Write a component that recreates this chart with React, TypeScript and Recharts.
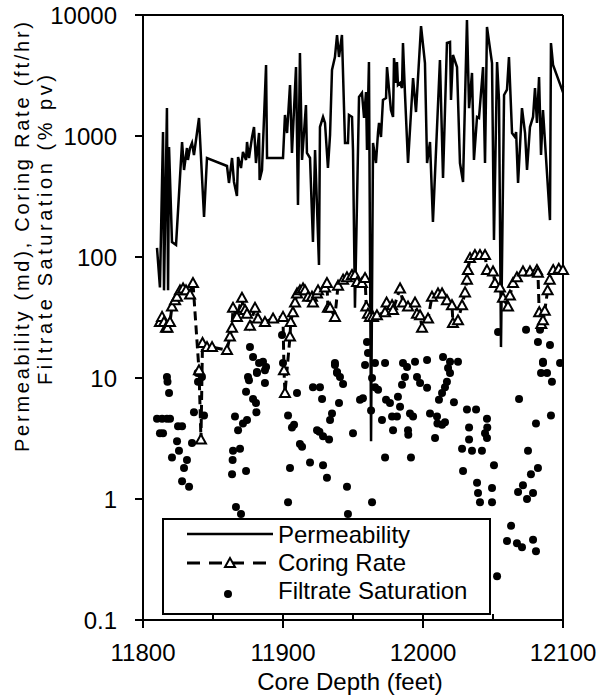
import React from 'react'
import { ComposedChart, Line, Scatter, XAxis, YAxis, ReferenceLine, Legend } from 'recharts'

const FONT = "'Liberation Sans', Arial, sans-serif"

const DEPTH_TICKS = [11800, 11850, 11900, 11950, 12000, 12050, 12100]
const VALUE_TICKS = [0.1, 1, 10, 100, 1000, 10000]

const PERM_DEPTH = [
  11810, 11812.1, 11814.3, 11815, 11817.1, 11817.9, 11818.6, 11820.7, 11823.6, 11827.9,
  11829.3, 11831.4, 11832.1, 11833.6, 11835, 11836.4, 11840, 11843.6, 11845.7, 11860,
  11861.4, 11863.6, 11865, 11867.1, 11867.9, 11870, 11871.4, 11873.6, 11874.3, 11875.7,
  11877.9, 11879.3, 11880.7, 11882.9, 11883.3, 11885, 11887.9, 11888.6, 11900, 11901.4,
  11902.9, 11905, 11906.4, 11909.3, 11910.7, 11912.1, 11913.6, 11916.4, 11917.1, 11919.3,
  11921.4, 11922.9, 11925.7, 11926.4, 11928.6, 11930, 11932.1, 11933.6, 11935, 11937.1,
  11938.6, 11940, 11942.1, 11944.3, 11946.4, 11947.1, 11949.3, 11950, 11951.4, 11954.3,
  11956.4, 11957.9, 11959.3, 11960, 11961.4, 11962.9, 11964.3, 11966.4, 11967.9, 11968.6,
  11970, 11971.4, 11973.6, 11974.3, 11977.1, 11978.6, 11979.3, 11980.7, 11981.4, 11982.1,
  11983.6, 11985, 11985.7, 11987.1, 11989.3, 11992.9, 11995, 11998.6, 12001.4, 12002.9,
  12005, 12007.1, 12012.1, 12014.3, 12017.1, 12019.3, 12020, 12021.4, 12024.3, 12026.4,
  12028.6, 12031.4, 12032.9, 12035, 12036.4, 12038.6, 12040, 12042.9, 12044.3, 12045.7,
  12049.3, 12050.7, 12052.9, 12054.3, 12055.7, 12057.9, 12060, 12061.4, 12063.6, 12065.7,
  12066.5, 12067.9, 12070.7, 12072.9, 12074.3, 12076.4, 12078.6, 12080, 12081.4, 12082.9,
  12084.3, 12085.7, 12090.7, 12091.4, 12092.9, 12099.3, 12100,
]
const PERM_VALUE = [
  119, 56, 1080, 53, 1700, 53, 811, 133, 126, 892,
  524, 796, 634, 796, 875, 697, 1409, 214, 658, 565,
  409, 658, 417, 319, 670, 544, 738, 634, 892, 658,
  981, 1186, 598, 1059, 433, 524, 3862, 658, 658, 1492,
  1059, 2638, 724, 3716, 269, 4853, 634, 1804, 724, 658,
  133, 766, 86, 1186, 1436, 1281, 544, 1019, 3510, 4497,
  6834, 4497, 6834, 875, 875, 1492, 1436, 766, 38, 2100,
  2266, 1409, 2311, 766, 4090, 3, 875, 598, 1080, 1281,
  981, 1985, 2060, 3716, 1640, 1436, 4413, 2742, 4090, 2638,
  2742, 2494, 5870, 2266, 598, 3015, 1578, 8110, 4010, 598,
  892, 195, 4246, 450, 5870, 5980, 1985, 4670, 3716, 598,
  417, 9100, 1700, 3318, 634, 1436, 1409, 3716, 598, 7960,
  4010, 138, 4090, 1985, 18, 2183, 2420, 4497, 1059, 981,
  1080, 409, 1700, 1059, 524, 1186, 1436, 2494, 1281, 3073,
  697, 1640, 202, 5870, 3862, 2420, 2600,
]

const CORING_DEPTH = [
  11812.1, 11813.6, 11815, 11816.4, 11817.5, 11819.3, 11820.7, 11822.9, 11824.3, 11826.4,
  11828.6, 11830.7, 11833.6, 11835.7, 11840, 11841.4, 11842.5, 11845.7, 11849.3, 11860,
  11862.1, 11863.6, 11864.3, 11867.1, 11870.7, 11871.4, 11872.9, 11874.3, 11876.4, 11880,
  11882.1, 11887.1, 11892.9, 11900, 11900.7, 11901.4, 11905, 11905.5, 11907.1, 11908.6,
  11910, 11912.1, 11914.3, 11915.7, 11917.9, 11920.7, 11921.4, 11924.3, 11925, 11930,
  11931.4, 11932.1, 11933.6, 11937.1, 11939.3, 11942.9, 11945.7, 11949.3, 11951.4, 11952.9,
  11956.4, 11958.6, 11959.5, 11960.7, 11962.1, 11964.3, 11967.1, 11972.9, 11974, 11977.9,
  11978.6, 11983.6, 11985.7, 11989.3, 11994.3, 11995.7, 11997.9, 11999.3, 12003.6, 12006.4,
  12010.7, 12013.6, 12017.1, 12020.7, 12021.4, 12025, 12027.9, 12030, 12031.4, 12032.1,
  12033.6, 12037.1, 12040.7, 12044.3, 12045.7, 12050, 12051.4, 12055, 12057.1, 12060.7,
  12062.1, 12064.3, 12067.1, 12071.4, 12076.4, 12081.4, 12082.1, 12083, 12084.5, 12085.7,
  12087, 12089, 12090.5, 12093, 12097, 12100,
]
const CORING_VALUE = [
  29, 32, 29, 26, 26, 29, 39, 44, 47, 53,
  55, 53, 49, 61, 11.6, 3.1, 19.5, 18, 18, 17,
  22, 26, 38, 32, 46, 38, 36.5, 34, 27, 38,
  31, 29, 31, 32, 11.6, 7.5, 22, 29, 35, 42,
  50, 53, 55, 53, 47, 47, 42, 50, 53, 56,
  61, 38, 38, 32, 58, 65, 68, 71, 71, 62,
  61, 67, 39, 34, 32, 32, 33, 35, 42, 40,
  36.5, 55, 42, 39, 42, 34, 33, 26, 31, 47,
  50, 50, 44, 40, 28.5, 30, 40, 51, 65, 78,
  98, 104, 104, 104, 78, 76, 61, 56, 46, 39,
  48, 61, 68, 76, 76, 78, 74, 35, 28, 30,
  36, 53, 65, 78, 80, 78,
]

const FILTRATE_DEPTH = [
  11810, 11812.1, 11813.6, 11814.3, 11817.1, 11817.5, 11817.1, 11818.6, 11819.3, 11820.7,
  11824.3, 11825, 11825.7, 11827.9, 11827.9, 11829.3, 11831.4, 11832.9, 11835, 11836.4,
  11839, 11839.3, 11842.1, 11843.6, 11863.6, 11864, 11864.3, 11865.7, 11866.4, 11867.9,
  11869.3, 11870, 11871.4, 11873.6, 11873.6, 11874.3, 11875, 11875.7, 11876.4, 11878.6,
  11878.6, 11880.7, 11881, 11881.4, 11881.4, 11882.9, 11885.7, 11887.1, 11887.1, 11887.9,
  11899.3, 11900, 11903.6, 11903.6, 11905, 11906.4, 11907.9, 11910, 11912.1, 11913.6,
  11919.3, 11921.4, 11924.3, 11926, 11926.4, 11927.9, 11928.6, 11928.6, 11931.4, 11932.9,
  11933.6, 11935, 11937.1, 11937.1, 11938.6, 11938.6, 11940, 11940.7, 11942.9, 11945.7,
  11946.4, 11950, 11955, 11957.1, 11958.6, 11960, 11960.7, 11962.9, 11963.6, 11963.6,
  11965.7, 11965.7, 11967.9, 11970.7, 11972.9, 11972.9, 11973.6, 11976.4, 11977.9, 11978.6,
  11981.4, 11982.1, 11983.6, 11985, 11985.7, 11987.1, 11988.6, 11989.3, 11989.5, 11990.7,
  11991.4, 11992.9, 11994.3, 11995.7, 11997.9, 12002.9, 12002.9, 12005, 12008.6, 12010,
  12010.3, 12011.4, 12013.6, 12013.6, 12014.3, 12015.7, 12015.7, 12017.1, 12017.9, 12019.3,
  12019.3, 12022.1, 12025, 12027.9, 12028.6, 12031.4, 12032.9, 12032.9, 12035, 12037.9,
  12038.6, 12039.3, 12040.7, 12042.1, 12044.3, 12045.7, 12045.9, 12045.7, 12049.3, 12049.3,
  12050.7, 12052.9, 12053.6, 12060, 12062.9, 12067.1, 12067.9, 12068.6, 12070.7, 12071.4,
  12073.6, 12074.3, 12075, 12077.1, 12078.6, 12078.6, 12080.7, 12080.7, 12082.1, 12082.1,
  12083.6, 12084.3, 12085.7, 12085.7, 12088.6, 12090.7, 12091.4, 12092.1, 12097.9,
]
const FILTRATE_VALUE = [
  4.6, 3.5, 4.6, 3.5, 10.2, 9.3, 4.6, 7.5, 4.6, 2.2,
  3.0, 4.0, 2.5, 4.0, 1.4, 1.8, 2.1, 1.26, 2.9, 5.2,
  11, 9.3, 10.2, 4.9, 1.6, 2.1, 2.5, 4.8, 0.86, 3.7,
  2.6, 0.75, 4.2, 1.7, 7.7, 4.5, 10.2, 9.6, 18, 6.7,
  14.9, 6.2, 5.2, 11, 11.2, 13.3, 13.6, 9.1, 11.6, 12.3,
  22.7, 13.3, 4.9, 0.94, 1.8, 3.9, 4.1, 7.5, 2.85, 2.7,
  2.0, 8.4, 3.7, 3.6, 8.4, 6.7, 3.3, 1.9, 1.5, 3.1,
  4.5, 5.1, 12.8, 13.3, 11, 11.2, 6.2, 10.2, 8.9, 1.26,
  0.75, 3.5, 6.6, 6.8, 12.8, 19.8, 16.1, 5.4, 10, 0.94,
  8.4, 13.3, 8.0, 4.5, 2.2, 13.3, 6.6, 6.2, 4.8, 3.7,
  4.8, 7.0, 5.8, 8.8, 13.3, 10.2, 12.3, 3.7, 3.4, 5.1,
  2.2, 4.8, 13.6, 10.2, 9.1, 8.3, 14.1, 5.1, 3.2, 4.8,
  4.2, 6.6, 4.1, 7.5, 14.9, 4.3, 8.4, 9.3, 12.1, 11,
  13.6, 6.3, 13.6, 2.6, 1.7, 5.5, 3.9, 3.1, 2.5, 5.5,
  1.36, 1.12, 0.94, 2.5, 3.5, 4.6, 3.9, 3.2, 1.23, 0.94,
  1.9, 0.23, 24, 0.45, 0.6, 0.43, 1.14, 6.7, 0.40, 1.3,
  25, 1.0, 2.5, 1.6, 1.12, 0.46, 4.2, 0.37, 1.8, 19.8,
  25, 11, 13.3, 13.6, 11, 18.7, 4.9, 9.3, 13.3,
]

const permData = PERM_DEPTH.map((depth, i) => ({ depth, value: PERM_VALUE[i] }))
const coringData = CORING_DEPTH.map((depth, i) => ({ depth, value: CORING_VALUE[i] }))
const filtrateData = FILTRATE_DEPTH.map((depth, i) => ({ depth, value: FILTRATE_VALUE[i] }))

function DepthTick({ x, y, payload }: any) {
  const v = payload.value
  const major = v % 100 === 0
  return (
    <g>
      <line x1={x} x2={x} y1={y - 6} y2={major ? y + 8 : y} stroke="#000" strokeWidth={2} />
      {major && (
        <text x={x} y={y + 41} textAnchor="middle" fontSize={24} fontFamily={FONT} fill="#000">{v}</text>
      )}
    </g>
  )
}

function Triangle({ cx, cy }: any) {
  if (cx == null || cy == null) return null
  return <polygon points={`${cx},${cy - 5} ${cx - 5},${cy + 4} ${cx + 5},${cy + 4}`} fill="#fff" stroke="#000" strokeWidth={2} />
}

function LegendBox() {
  const t = { fontSize: 24, fontFamily: FONT, fill: '#000' }
  return (
    <div style={{ width: 329, height: 97, border: '2px solid #000', background: '#fff', boxSizing: 'border-box' }}>
      <svg width={325} height={93} style={{ display: 'block' }}>
        <line x1={23} x2={109} y1={14} y2={14} stroke="#000" strokeWidth={2.5} />
        <text x={114} y={23} {...t}>Permeability</text>
        <line x1={23} x2={109} y1={43} y2={43} stroke="#000" strokeWidth={3} strokeDasharray="13 9" />
        <Triangle cx={66} cy={43} />
        <text x={114} y={51} {...t}>Coring Rate</text>
        <circle cx={64} cy={74} r={4} fill="#000" />
        <text x={114} y={79} {...t}>Filtrate Saturation</text>
      </svg>
    </div>
  )
}

export default function App() {
  return (
    <div style={{ position: 'relative', width: 608, height: 700, background: '#fff' }}>
      <style>{`html,body{margin:0;padding:0;overflow:hidden;background:#fff}`}</style>
      <ComposedChart width={608} height={700} margin={{ top: 15, right: 45, bottom: 0, left: 0 }}>
        <XAxis dataKey="depth" type="number" domain={[11800, 12100]} ticks={DEPTH_TICKS} interval={0}
          height={80} tickSize={0} tickMargin={0} tickLine={false} tick={<DepthTick />}
          axisLine={{ stroke: '#000', strokeWidth: 2 }} />
        <YAxis type="number" scale="log" domain={[0.1, 10000]} allowDataOverflow ticks={VALUE_TICKS} interval={0}
          width={143} tickSize={8} tickMargin={18} tickFormatter={(v) => String(v)}
          tick={{ fontSize: 24, fontFamily: FONT, fill: '#000' }}
          tickLine={{ stroke: '#000', strokeWidth: 2 }} axisLine={{ stroke: '#000', strokeWidth: 2 }} />
        <ReferenceLine y={10000} stroke="#000" strokeWidth={2} />
        <ReferenceLine x={12100} stroke="#000" strokeWidth={2} />
        <Line data={coringData} dataKey="value" type="linear" stroke="#000" strokeWidth={3} strokeDasharray="9 5"
          dot={(p: any) => <Triangle key={p.index} cx={p.cx} cy={p.cy} />} isAnimationActive={false} />
        <Line data={permData} dataKey="value" type="linear" stroke="#000" strokeWidth={2.5} dot={false}
          isAnimationActive={false} />
        <Scatter data={filtrateData} dataKey="value" fill="#000" isAnimationActive={false}
          shape={(p: any) => <circle cx={p.cx} cy={p.cy} r={4} fill="#000" />} />
        <Legend layout="vertical" align="center" verticalAlign="middle" content={() => <LegendBox />}
          wrapperStyle={{ left: 162, top: 518, width: 329, height: 97 }} />
      </ComposedChart>
      <svg width={608} height={700} style={{ position: 'absolute', left: 0, top: 0, pointerEvents: 'none' }}>
        <text transform="translate(29,237) rotate(-90)" textAnchor="middle" fontSize={20} fontFamily={FONT} fill="#000"
          textLength={430} lengthAdjust="spacing">
          Permeability (md), Coring Rate (ft/hr)
        </text>
        <text transform="translate(52,230) rotate(-90)" textAnchor="middle" fontSize={20} fontFamily={FONT} fill="#000"
          textLength={310} lengthAdjust="spacing">
          Filtrate Saturation (% pv)
        </text>
        <text x={350} y={690} textAnchor="middle" fontSize={24} fontFamily={FONT} fill="#000">Core Depth (feet)</text>
      </svg>
    </div>
  )
}
